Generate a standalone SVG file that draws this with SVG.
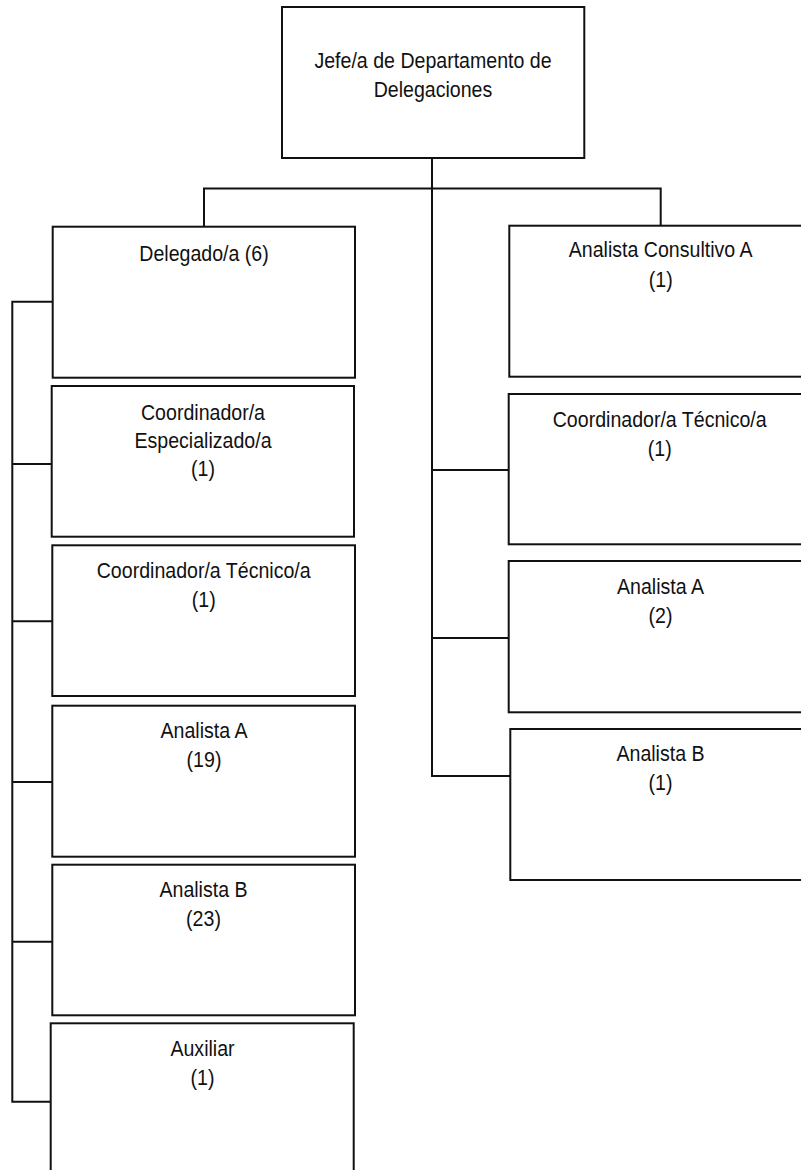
<svg xmlns="http://www.w3.org/2000/svg" width="801" height="1170" viewBox="0 0 801 1170">
<style>
.box{fill:#fff;stroke:#111;stroke-width:2}
.ln{fill:none;stroke:#111;stroke-width:2}
.t{font-family:"Liberation Sans",Arial,sans-serif;font-size:22px;fill:#111;text-anchor:middle}
</style>
<rect width="801" height="1170" fill="#fff"/>
<g id="connectors">
<path class="ln" d="M432,158 V776 H510.3"/>
<path class="ln" d="M204,226.7 V188.5 H660.7 V225.7"/>
<path class="ln" d="M432,470 H508.7 M432,638 H508.7"/>
<path class="ln" d="M52.7,301.7 H12.3 V1101.7 H50.7 M12.3,464 H51.7 M12.3,621.3 H52.3 M12.3,782 H52.3 M12.3,941.7 H52.3"/>
</g>
<g id="jefe">
<rect class="box" x="282" y="7" width="302.3" height="151"/>
<text class="t" transform="translate(433,68.3) scale(0.89,1)">Jefe/a de Departamento de</text>
<text class="t" transform="translate(433,96.7) scale(0.89,1)">Delegaciones</text>
</g>
<g id="delegado">
<rect class="box" x="52.7" y="226.7" width="302.3" height="151"/>
<text class="t" transform="translate(204,261) scale(0.89,1)">Delegado/a (6)</text>
</g>
<g id="coord-esp">
<rect class="box" x="51.7" y="386" width="302.3" height="150.7"/>
<text class="t" transform="translate(203,420) scale(0.89,1)">Coordinador/a</text>
<text class="t" transform="translate(203,448) scale(0.89,1)">Especializado/a</text>
<text class="t" transform="translate(203,476) scale(0.89,1)">(1)</text>
</g>
<g id="coord-tec-l">
<rect class="box" x="52.3" y="545.3" width="302.7" height="150.7"/>
<text class="t" transform="translate(203.7,578.3) scale(0.89,1)">Coordinador/a Técnico/a</text>
<text class="t" transform="translate(203.7,607) scale(0.89,1)">(1)</text>
</g>
<g id="analista-a-l">
<rect class="box" x="52.3" y="705.7" width="302.7" height="151"/>
<text class="t" transform="translate(204,738.3) scale(0.89,1)">Analista A</text>
<text class="t" transform="translate(204,767) scale(0.89,1)">(19)</text>
</g>
<g id="analista-b-l">
<rect class="box" x="52.3" y="864.7" width="302.7" height="150.6"/>
<text class="t" transform="translate(203.5,897.3) scale(0.89,1)">Analista B</text>
<text class="t" transform="translate(203.5,926) scale(0.89,1)">(23)</text>
</g>
<g id="auxiliar">
<rect class="box" x="50.7" y="1023.3" width="303" height="160"/>
<text class="t" transform="translate(202.5,1056) scale(0.89,1)">Auxiliar</text>
<text class="t" transform="translate(202.5,1085) scale(0.89,1)">(1)</text>
</g>
<g id="analista-consultivo">
<rect class="box" x="509.3" y="225.7" width="302.7" height="151"/>
<text class="t" transform="translate(660.7,257.3) scale(0.89,1)">Analista Consultivo A</text>
<text class="t" transform="translate(660.7,287) scale(0.89,1)">(1)</text>
</g>
<g id="coord-tec-r">
<rect class="box" x="508.7" y="394" width="303.3" height="150.3"/>
<text class="t" transform="translate(659.7,427) scale(0.89,1)">Coordinador/a Técnico/a</text>
<text class="t" transform="translate(659.7,456) scale(0.89,1)">(1)</text>
</g>
<g id="analista-a-r">
<rect class="box" x="508.7" y="561" width="303.3" height="151.3"/>
<text class="t" transform="translate(660.5,594.3) scale(0.89,1)">Analista A</text>
<text class="t" transform="translate(660.5,623) scale(0.89,1)">(2)</text>
</g>
<g id="analista-b-r">
<rect class="box" x="510.3" y="729" width="301.7" height="151"/>
<text class="t" transform="translate(660.5,761) scale(0.89,1)">Analista B</text>
<text class="t" transform="translate(660.5,790) scale(0.89,1)">(1)</text>
</g>
</svg>
